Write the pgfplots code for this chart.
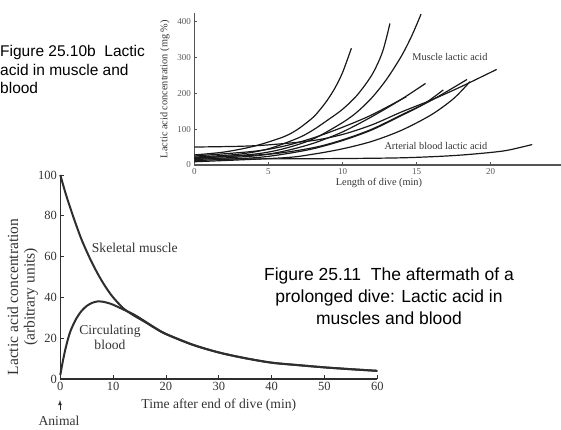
\documentclass[border=0pt]{standalone}
\usepackage{fontspec}
\setmainfont{Liberation Serif}
\newfontfamily\capfont{Liberation Sans}
\usepackage{pgfplots}
\pgfplotsset{compat=1.18}

\begin{document}
\begin{tikzpicture}
\definecolor{diveInk}{HTML}{2E2E2E}
\definecolor{diveAxis}{HTML}{555555}
\useasboundingbox (0pt,0pt) rectangle (561pt,430pt);

% upper panel: lactic acid against length of dive
\begin{axis}[
	at={(194.3pt,265pt)}, anchor=south west,
	scale only axis, width=370.5pt, height=151.6pt,
	xmin=0, xmax=25, ymin=0, ymax=422,
	axis lines*=left, clip=false,
	xtick={0,5,10,15,20}, ytick={0,100,200,300,400},
	tick align=inside, major tick length=2.5pt,
	axis line style={draw=diveAxis,line width=1.1pt},
	tick style={draw=diveAxis,line width=0.6pt},
	/pgf/number format/assume math mode=true,
	tick label style={font=\fontsize{9}{10}\selectfont,text=black!65},
	xlabel={Length of dive (min)},
	ylabel={Lactic acid concentration (mg \%)},
	label style={font=\fontsize{10.3}{12}\selectfont,text=black!80},
	xlabel style={at={(axis description cs:0.4985,-0.119)},anchor=center},
	ylabel style={at={(axis description cs:-0.079,0.5)},anchor=center},
	curve/.style={draw=black!90,line width=1.2pt,smooth,tension=0.5,no marks},
]
\addplot[curve] coordinates {(0,28) (2,36) (4,52) (6,78) (7,100) (8,132) (8.5,155) (9,182) (9.5,215) (10,257) (10.6,325)};
\addplot[curve] coordinates {(0,22) (3,30) (5,45) (7,75) (8,97) (9,125) (10,155) (11,195) (12,252) (12.7,315) (13.2,394)};
\addplot[curve] coordinates {(0,18) (4,30) (6,45) (8,72) (10,118) (11,148) (12,188) (13,240) (14,305) (14.7,362) (15.3,420)};
\addplot[curve] coordinates {(0,15) (4,25) (6,38) (8,60) (10,92) (12,135) (13.9,181) (15.6,227)};
\addplot[curve] coordinates {(0,25) (4,38) (6,52) (8,75) (10,105) (12,140) (14.3,190)};
\addplot[curve] coordinates {(0,12) (4,20) (6,30) (8,45) (10,68) (12,98) (14,138) (15.5,170) (16.8,209)};
\addplot[curve] coordinates {(0,9) (6,20) (8,30) (10,45) (12,66) (14,97) (16,140) (17.5,185) (18.6,232)};
\addplot[curve] coordinates {(0,20) (5,30) (8,48) (10,70) (12,100) (14,140) (16,180) (18.4,238)};
\addplot[curve] coordinates {(0,50) (3,52) (5,56) (8,68) (10,85) (12,112) (14,148) (16,181) (18,218) (20.4,266)};
\addplot[curve] coordinates {(0,17) (5,17) (10,18) (14,20) (17,25) (19,31) (21,40) (22.8,57)};
\node[font=\fontsize{10.3}{12}\selectfont,text=black!80] at (axis cs:17.25,300.6) {Muscle lactic acid};
\node[font=\fontsize{10.3}{12}\selectfont,text=black!80] at (axis cs:16.3,52.9) {Arterial blood lactic acid};
\end{axis}

% lower panel: lactic acid after the end of the dive
\begin{axis}[
	at={(60.3pt,51pt)}, anchor=south west,
	scale only axis, width=317pt, height=204pt,
	xmin=0, xmax=60, ymin=0, ymax=100,
	axis lines*=left, clip=false,
	xtick={0,10,...,60}, ytick={0,20,...,100},
	tick align=inside, major tick length=4pt,
	axis line style={draw=diveInk,line width=1.2pt},
	tick style={draw=diveInk,line width=0.8pt},
	/pgf/number format/assume math mode=true,
	tick label style={font=\fontsize{12.5}{14}\selectfont,text=black!80},
	xlabel={Time after end of dive (min)},
	ylabel={Lactic acid concentration\\(arbitrary units)},
	label style={font=\fontsize{13.6}{15}\selectfont,text=black!80},
	xlabel style={at={(axis description cs:0.5,-0.128)},anchor=center},
	ylabel style={at={(axis description cs:-0.119,0.402)},anchor=center,align=center,
		font=\fontsize{15.5}{16.5}\selectfont},
	curve/.style={draw=diveInk,line width=2pt,smooth,tension=0.5,no marks},
]
\addplot[curve] coordinates {(0,100) (1,91) (2,83) (3,75.5) (4,68.5) (5,62.5) (6,57) (7,52) (8,47.5) (9,43.5) (10,40) (12,34.5) (14,31) (16,28) (18,24.8) (20,22) (25,16.8) (30,13) (35,10.2) (40,8) (45,6.8) (50,5.7) (55,4.8) (60,4)};
\addplot[curve] coordinates {(0,2) (0.5,9) (1,15) (1.5,20) (2,24) (3,29.5) (4,33.3) (5,35.8) (6,37.3) (7,38) (8,37.9) (9,37.3) (10,36.4) (12,34) (14,31.5) (16,28.3) (18,25) (20,22.1) (25,16.9) (30,13) (35,10.2) (40,8) (45,6.8) (50,5.7) (55,4.8) (60,4)};
\node[font=\fontsize{13.6}{15}\selectfont,text=black!80] at (axis cs:14.1,64.2) {Skeletal muscle};
\node[font=\fontsize{13.6}{15}\selectfont,text=black!80,align=center] at (axis cs:9.4,20.4) {Circulating\\blood};
\end{axis}

% arrow and note under the time axis
\draw[-latex,line width=0.8pt,diveInk] (60pt,20pt) -- (60pt,30pt);
\node[font=\fontsize{13.6}{15}\selectfont,text=black!80,anchor=base] at (59pt,4pt) {Animal};

% captions
\begin{scope}[every node/.style={font=\capfont\fontsize{15.5}{18}\selectfont,anchor=base west,inner sep=0pt}]
\node at (0pt,373.5pt) {Figure 25.10b\ \ Lactic};
\node at (0pt,354.7pt) {acid in muscle and};
\node at (0pt,336pt) {blood};
\end{scope}
\begin{scope}[every node/.style={font=\capfont\fontsize{17.5}{21}\selectfont,anchor=base,inner sep=0pt}]
\node at (389pt,149.3pt) {Figure 25.11\ \ The aftermath of a};
\node at (389pt,127.3pt) {prolonged dive: Lactic acid in};
\node at (389pt,105pt) {muscles and blood};
\end{scope}
\end{tikzpicture}
\end{document}
